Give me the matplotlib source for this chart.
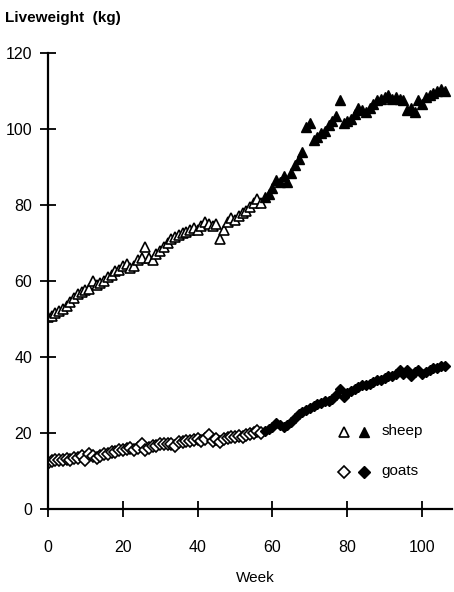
import matplotlib
matplotlib.use("Agg")
import matplotlib.pyplot as plt
import numpy as np

plt.rcParams['font.family'] = ['Liberation Sans Narrow', 'Liberation Sans', 'DejaVu Sans']

# weekly liveweights (kg); open markers up to week 57, filled afterwards
weeks = np.arange(0, 107)
sheep = [50.5, 50.8, 51.5, 52, 52.5, 53.5, 54.5, 55.5, 56.5, 57,
         57.5, 58, 60, 59, 59.5, 60, 61, 61.5, 62.5, 63,
         64, 64.5, 63.5, 64, 65.5, 66, 69, 66, 65.5, 67,
         68, 69, 70, 71, 71.5, 72, 72.5, 73, 73.5, 74,
         73.5, 74.5, 75.5, 75, 74.5, 75, 71, 73.5, 75.5, 76.5,
         76, 77, 78, 78.5, 79.5, 80.5, 81.5, 80.5,
         82, 83, 84.5, 86.5, 86, 87.5, 86, 88.5, 90.5, 92,
         94, 100.5, 101.5, 97, 98, 99, 99.5, 101, 102, 103.5,
         107.5, 101.5, 102, 102.5, 104, 105.5, 105, 104.5, 105.5, 106.5,
         107.5, 108, 108.5, 109, 108, 108.5, 108, 107.5, 105, 105.5,
         104.5, 107.5, 106.5, 108.5, 109, 109.5, 110, 110.5, 110]
goats = [12, 12.5, 13, 13, 12.8, 13.2, 13, 13.5, 13.5, 14,
         13, 14.5, 14, 13.5, 14, 14.5, 14.5, 15, 15, 15.5,
         15.5, 15.8, 16, 15.5, 16, 17, 15.5, 16, 16.5, 16.5,
         17, 17, 17, 17.2, 16.5, 17.5, 17.5, 18, 18, 18.2,
         18.5, 18, 18.5, 19.5, 18, 18.5, 17.5, 18.5, 18.8, 19,
         19, 19.2, 19, 19.5, 19.8, 20, 20.5, 20,
         20.5, 21, 21.5, 22.5, 22, 21.5, 22, 23, 24, 25,
         25.5, 26, 26.5, 27, 27.5, 28, 28.5, 28.5, 29, 30,
         31.5, 29.5, 30.5, 31, 31.5, 32, 32.5, 32.5, 33, 33.5,
         34, 34, 34.5, 35, 35, 35.5, 36.5, 35.5, 36.5, 35,
         36, 36.5, 35.5, 36, 36.5, 37, 37, 37.5, 37.5]
split_week = 57

sheep = np.array(sheep)
goats = np.array(goats)
early = weeks <= split_week
late = ~early

fig = plt.figure(figsize=(4.54, 5.92), dpi=100)
ax = fig.add_axes([0.1057, 0.1402, 0.8899, 0.7703])

ms = 7.5
ax.plot(weeks[early], sheep[early], ls='none', marker='^', ms=ms,
        mfc='white', mec='black', mew=1.2)
ax.plot(weeks[late], sheep[late], ls='none', marker='^', ms=ms,
        mfc='black', mec='black', mew=1.0)
ax.plot(weeks[early], goats[early], ls='none', marker='D', ms=6,
        mfc='white', mec='black', mew=1.2)
ax.plot(weeks[late], goats[late], ls='none', marker='D', ms=5,
        mfc='black', mec='black', mew=1.0)

# key
tr = ax.transAxes
ax.plot([0.733], [0.169], transform=tr, marker='^', ms=7, mfc='white', mec='black', mew=1.2, ls='none')
ax.plot([0.782], [0.169], transform=tr, marker='^', ms=7, mfc='black', mec='black', ls='none')
ax.text(0.826, 0.171, 'sheep', transform=tr, fontsize=11, va='center', ha='left')
ax.plot([0.733], [0.081], transform=tr, marker='D', ms=6, mfc='white', mec='black', mew=1.2, ls='none')
ax.plot([0.782], [0.081], transform=tr, marker='D', ms=6, mfc='black', mec='black', ls='none')
ax.text(0.826, 0.083, 'goats', transform=tr, fontsize=11, va='center', ha='left')

ax.set_xlim(0, 108)
ax.set_ylim(0, 120)
ax.set_xticks([0, 20, 40, 60, 80, 100])
ax.set_yticks([0, 20, 40, 60, 80, 100, 120])
for s in ['top', 'right']:
    ax.spines[s].set_visible(False)
for s in ['left', 'bottom']:
    ax.spines[s].set_linewidth(1.6)
ax.tick_params(direction='inout', length=11, width=1.3, labelsize=11.5, pad=6)
ax.tick_params(axis='x', pad=17)

fig.text(0.011, 0.97, 'Liveweight  (kg)', fontsize=11, fontweight='bold',
         ha='left', va='center')
fig.text(0.562, 0.024, 'Week', fontsize=11, ha='center', va='center')

fig.savefig("out.png", dpi=100)
